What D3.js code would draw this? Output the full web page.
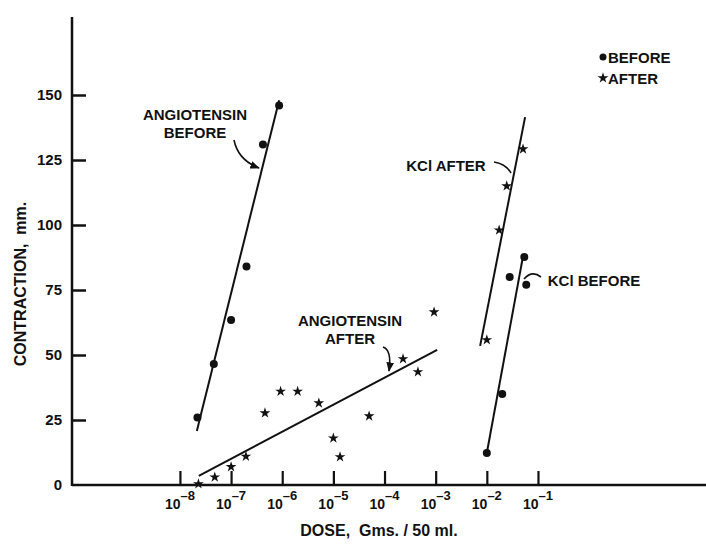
<!DOCTYPE html>
<html>
<head>
<meta charset="utf-8">
<script src="https://cdn.jsdelivr.net/npm/d3@7"></script>
<style>
  body { margin: 0; background: #fff; }
  text { font-family: "Liberation Sans", Arial, sans-serif; font-weight: bold; fill: #111; }
</style>
</head>
<body>
<div id="chart"></div>
<script>
// values (dose in g / 50 ml, contraction in mm)
var angBeforeDose = [2.2e-8, 4.6e-8, 1e-7, 2e-7, 4.2e-7, 8.7e-7];
var angBeforeMm   = [26, 46.5, 63.5, 84, 131, 146];

var angAfterDose = [2.3e-8, 4.8e-8, 1e-7, 1.95e-7, 4.6e-7, 9.3e-7, 2e-6, 5.2e-6, 1e-5, 1.35e-5, 5e-5, 2.3e-4, 4.5e-4, 9.3e-4];
var angAfterMm   = [0.4, 3, 7, 11, 27.7, 36, 36, 31.5, 18, 10.8, 26.5, 48.5, 43.5, 66.5];

var kclBeforeDose = [1e-2, 2e-2, 2.8e-2, 5.4e-2, 5.9e-2];
var kclBeforeMm   = [12.3, 35, 80, 87.7, 77];

var kclAfterDose = [1e-2, 1.74e-2, 2.45e-2, 5.1e-2];
var kclAfterMm   = [55.8, 98, 115, 129.2];

// hand-drawn fit lines (end points)
var angBeforeFitDose = [2.14e-8, 8.7e-7], angBeforeFitMm = [20.8, 148];
var angAfterFitDose  = [2.34e-8, 1.07e-3], angAfterFitMm = [3.5, 52];
var kclBeforeFitDose = [1e-2, 5.16e-2],   kclBeforeFitMm = [12.3, 88.5];
var kclAfterFitDose  = [7.4e-3, 5.6e-2],  kclAfterFitMm = [53.5, 141.5];

var xTicks = [1e-8, 1e-7, 1e-6, 1e-5, 1e-4, 1e-3, 1e-2, 1e-1];
var yTicks = [0, 25, 50, 75, 100, 125, 150];

var width = 706, height = 544;

var svg = d3.select("#chart")
    .append("svg")
    .attr("width", width)
    .attr("height", height);

var x = d3.scaleLog().domain([Math.pow(10, -10.11), Math.pow(10, 2.285)]).range([72, 706]);
var y = d3.scaleLinear().domain([0, 150]).range([485, 95]);

// y axis
var gy = svg.append("g")
    .attr("transform", "translate(" + x.range()[0] + ",0)")
    .call(d3.axisLeft(y).tickValues(yTicks).tickSizeInner(-14).tickSizeOuter(0).tickPadding(10));
gy.select(".domain").remove();
gy.selectAll(".tick line").attr("stroke", "#111").attr("stroke-width", 2.5)
  .filter(function(d){ return d === 0; }).remove();
gy.selectAll(".tick text").style("font-size", "15px").attr("font-family", null).attr("fill", null);

svg.append("line")
    .attr("x1", x.range()[0]).attr("x2", x.range()[0])
    .attr("y1", y(0) + 1).attr("y2", y(180))
    .attr("stroke", "#111").attr("stroke-width", 2.5);

// x axis
var gx = svg.append("g")
    .attr("transform", "translate(0," + y(0) + ")")
    .call(d3.axisBottom(x).tickValues(xTicks).tickSizeInner(-14).tickSizeOuter(0).tickFormat(""));
gx.select(".domain").remove();
gx.selectAll(".tick line").attr("stroke", "#111").attr("stroke-width", 2.2);

svg.append("line")
    .attr("x1", x.range()[0]).attr("x2", x.range()[1])
    .attr("y1", y(0)).attr("y2", y(0))
    .attr("stroke", "#111").attr("stroke-width", 2.5);

var lab = svg.selectAll(".xlab")
    .data(xTicks)
    .enter().append("text")
    .attr("class", "xlab")
    .attr("x", function(d){ return x(d); })
    .attr("y", y(0) + 24)
    .attr("text-anchor", "middle")
    .style("font-size", "14px");
lab.append("tspan").text("10");
lab.append("tspan")
    .attr("dy", -9)
    .style("font-size", "13px")
    .text(function(d){ return "\u2013" + Math.round(-Math.log10(d)); });

// axis titles
svg.append("text")
    .attr("transform", "translate(26,284) rotate(-90)")
    .attr("text-anchor", "middle")
    .style("font-size", "16px")
    .text("CONTRACTION,\u00a0 mm.");

svg.append("text")
    .attr("x", 379).attr("y", 536)
    .attr("text-anchor", "middle")
    .style("font-size", "16px")
    .text("DOSE,\u00a0 Gms. / 50 ml.");

// fit lines
var line = d3.line().x(function(d){ return x(d[0]); }).y(function(d){ return y(d[1]); });
[[angBeforeFitDose, angBeforeFitMm], [angAfterFitDose, angAfterFitMm],
 [kclBeforeFitDose, kclBeforeFitMm], [kclAfterFitDose, kclAfterFitMm]].forEach(function(f){
  svg.append("path")
    .datum(d3.zip(f[0], f[1]))
    .attr("fill", "none")
    .attr("stroke", "#111")
    .attr("stroke-width", 2)
    .attr("d", line);
});

// points
function circles(dose, mm) {
  svg.append("g").selectAll("circle")
    .data(d3.zip(dose, mm))
    .enter().append("circle")
    .attr("cx", function(d){ return x(d[0]); })
    .attr("cy", function(d){ return y(d[1]); })
    .attr("r", 4)
    .attr("fill", "#111");
}
var star = d3.symbol().type(d3.symbolStar).size(36);
function stars(dose, mm) {
  svg.append("g").selectAll("path")
    .data(d3.zip(dose, mm))
    .enter().append("path")
    .attr("transform", function(d){ return "translate(" + x(d[0]) + "," + y(d[1]) + ")"; })
    .attr("d", star)
    .attr("fill", "#111");
}
circles(angBeforeDose, angBeforeMm);
stars(angAfterDose, angAfterMm);
circles(kclBeforeDose, kclBeforeMm);
stars(kclAfterDose, kclAfterMm);

// annotations
svg.append("defs").append("marker")
    .attr("id", "arr")
    .attr("viewBox", "0 0 10 10")
    .attr("refX", 9).attr("refY", 5)
    .attr("markerWidth", 6).attr("markerHeight", 6)
    .attr("orient", "auto")
    .append("path").attr("d", "M0,1L10,5L0,9z").attr("fill", "#111");

function label(lines, cx, cy) {
  var t = svg.append("text").attr("text-anchor", "middle").style("font-size", "15px");
  lines.forEach(function(s, i){
    t.append("tspan").attr("x", cx).attr("y", cy + i * 18).text(s);
  });
}
label(["ANGIOTENSIN", "BEFORE"], 195, 120);
label(["ANGIOTENSIN", "AFTER"], 350, 326);
label(["KCl AFTER"], 446, 171);
label(["KCl BEFORE"], 594, 286);

function leader(d, arrow) {
  svg.append("path").attr("d", d)
    .attr("fill", "none").attr("stroke", "#111").attr("stroke-width", 1.6)
    .attr("marker-end", arrow ? "url(#arr)" : null);
}
leader("M234,140 Q238,160 259,168", true);
leader("M383,347 Q392,350 389,371", true);
leader("M494,162 Q506,164 511,173", false);
leader("M524,279 Q532,270 541,277", false);

// legend
svg.append("circle").attr("cx", 603).attr("cy", 57).attr("r", 3.5).attr("fill", "#111");
svg.append("text").attr("x", 608).attr("y", 63).style("font-size", "15px").text("BEFORE");
svg.append("path").attr("transform", "translate(603,78)").attr("d", star).attr("fill", "#111");
svg.append("text").attr("x", 608).attr("y", 84).style("font-size", "15px").text("AFTER");
</script>
</body>
</html>
